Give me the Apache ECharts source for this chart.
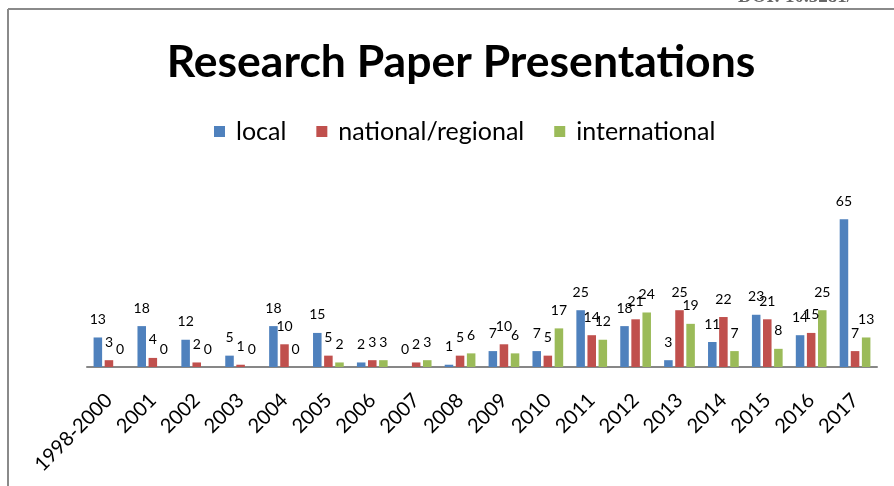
<!DOCTYPE html>
<html>
<head>
<meta charset="utf-8">
<script src="https://cdn.jsdelivr.net/npm/echarts@6/dist/echarts.min.js"></script>
<style>
  html, body { margin: 0; padding: 0; background: #fff; }
  #chart { width: 894px; height: 486px; }
</style>
</head>
<body>
<div id="chart"></div>
<script>
// research paper presentations per year
var years = ['1998-2000', '2001', '2002', '2003', '2004', '2005', '2006', '2007', '2008',
  '2009', '2010', '2011', '2012', '2013', '2014', '2015', '2016', '2017'];
var local = [13, 18, 12, 5, 18, 15, 2, 0, 1, 7, 7, 25, 18, 3, 11, 23, 14, 65];
var national = [3, 4, 2, 1, 10, 5, 3, 2, 5, 10, 5, 14, 21, 25, 22, 21, 15, 7];
var international = [0, 0, 0, 0, 0, 2, 3, 3, 6, 6, 17, 12, 24, 19, 7, 8, 25, 13];

var font = 'Lato';
var chart = echarts.init(document.getElementById('chart'));

function barSeries(name, data, color) {
  return {
    name: name,
    type: 'bar',
    data: data,
    barGap: '30%',
    barCategoryGap: '30%',
    itemStyle: { color: color },
    label: {
      show: true,
      position: 'top',
      distance: 11,
      color: '#000',
      fontSize: 14,
      fontFamily: font
    }
  };
}

chart.setOption({
  animation: false,
  title: {
    text: 'Research Paper Presentations',
    left: 456,
    textAlign: 'center',
    top: 35,
    textStyle: { fontFamily: font, fontWeight: 'bold', fontSize: 44.5, color: '#000' }
  },
  legend: {
    top: 114,
    left: 209,
    icon: 'rect',
    itemWidth: 11,
    itemHeight: 11,
    itemGap: 30,
    textStyle: { fontFamily: font, fontSize: 25, color: '#000', padding: [0, 0, 0, 6] }
  },
  grid: { left: 87, right: 17, top: 208, bottom: 119 },
  xAxis: {
    type: 'category',
    data: years,
    axisLine: { lineStyle: { color: '#878787', width: 2 } },
    axisTick: { show: false },
    axisLabel: { rotate: 45, margin: 30, fontSize: 20, fontFamily: font, color: '#000', interval: 0 }
  },
  yAxis: { type: 'value', min: 0, max: 70, show: false },
  series: [
    barSeries('local', local, '#4F81BD'),
    barSeries('national/regional', national, '#C0504D'),
    barSeries('international', international, '#9BBB59')
  ],
  graphic: [
    { type: 'line', shape: { x1: 8, y1: 9, x2: 894, y2: 9 }, style: { stroke: '#8a8a8a', lineWidth: 2 } },
    { type: 'line', shape: { x1: 8, y1: 9, x2: 8, y2: 486 }, style: { stroke: '#8a8a8a', lineWidth: 2 } },
    { type: 'text', x: 738, y: 7, style: { text: 'DOI: 10.5281/', font: 'bold 19px "Liberation Serif"', fill: '#666', verticalAlign: 'bottom' } }
  ]
});
</script>
</body>
</html>
